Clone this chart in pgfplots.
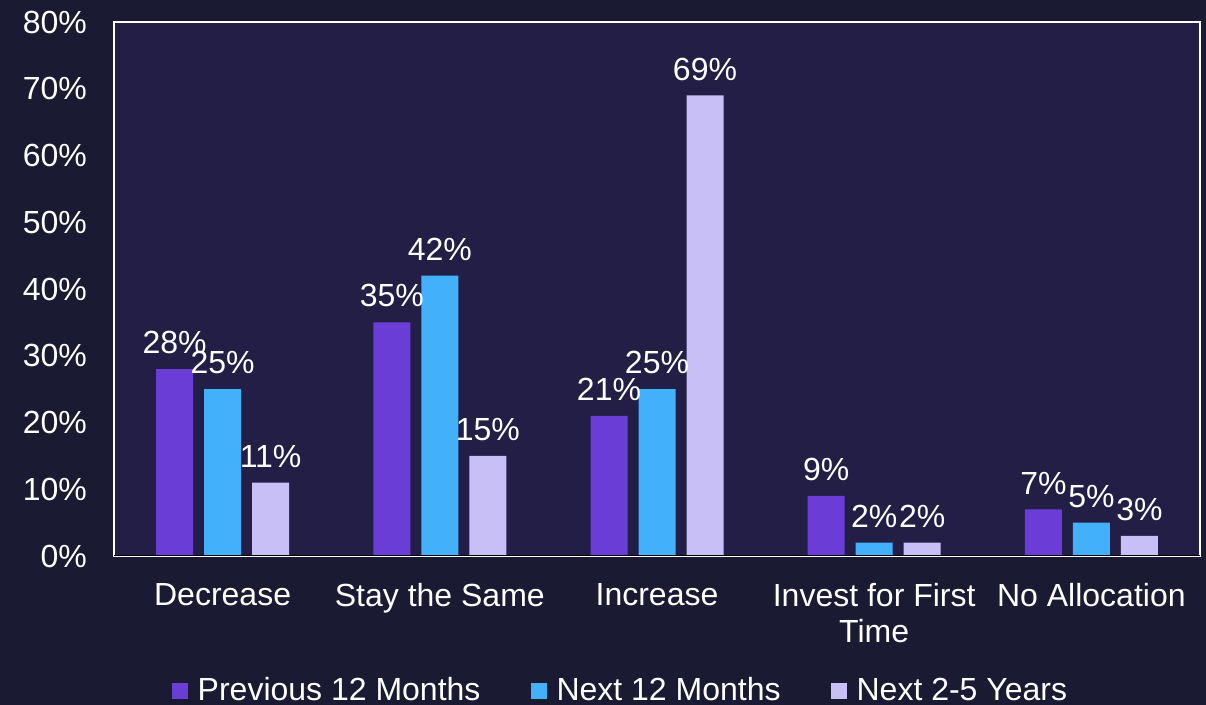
\documentclass[border=0pt]{standalone}
\usepackage{pgfplots}
\pgfplotsset{compat=1.18}
\usepackage{fontspec}
\setmainfont{Liberation Sans}
\usetikzlibrary{backgrounds}

\definecolor{outerbg}{HTML}{1B1A33}
\definecolor{plotbg}{HTML}{221E45}
\definecolor{cprev}{HTML}{6A3DD6}
\definecolor{cnext}{HTML}{42B0FB}
\definecolor{clong}{HTML}{C9BFF7}
\definecolor{baseline}{HTML}{D9D9D9}

\begin{document}
\begin{tikzpicture}
  \begin{axis}[
    at={(0,0)}, anchor=south west,
    scale only axis,
    width=543pt, height=267pt,
    ybar=5.5pt, bar width=18.5pt,
    xmin=-0.5, xmax=4.5,
    ymin=0, ymax=80,
    xtick={0,1,2,3,4},
    xticklabels={Decrease, Stay the Same, Increase, Invest for First\\Time, No Allocation},
    ytick={0,10,20,30,40,50,60,70,80},
    yticklabels={0\%,10\%,20\%,30\%,40\%,50\%,60\%,70\%,80\%},
    major tick length=0pt,
    font=\fontsize{16}{18}\selectfont,
    tick label style={white},
    xticklabel style={align=center, yshift=-10pt},
    yticklabel style={xshift=-10pt},
    axis background/.style={fill=plotbg},
    axis line style={white, line width=1pt},
    nodes near coords={\pgfmathprintnumber[assume math mode=true]{\pgfplotspointmeta}\%},
    every node near coord/.append style={white, font=\fontsize{16}{18}\selectfont, yshift=4pt},
    legend columns=3,
    legend style={at={(0.47,-0.252)}, anchor=center, draw=none, fill=none,
      text=white, font=\fontsize{16}{18}\selectfont,
      /tikz/every even column/.append style={column sep=20pt},
      nodes={inner xsep=5pt}},
    legend image code/.code={\fill[#1] (0pt,-4pt) rectangle (8pt,4pt);},
  ]
    \addplot[fill=cprev, draw=none] coordinates {(0,28) (1,35) (2,21) (3,9) (4,7)};
    \addlegendentry{Previous 12 Months}
    \addplot[fill=cnext, draw=none] coordinates {(0,25) (1,42) (2,25) (3,2) (4,5)};
    \addlegendentry{Next 12 Months}
    \addplot[fill=clong, draw=none] coordinates {(0,11) (1,15) (2,69) (3,2) (4,3)};
    \addlegendentry{Next 2-5 Years}
    \draw[baseline, line width=1.2pt] (rel axis cs:0,0) -- (rel axis cs:1,0);
  \end{axis}
  \begin{scope}[on background layer]
    \fill[outerbg] (-57pt,-74.5pt) rectangle (546pt,278pt);
  \end{scope}
  \pgfresetboundingbox
  \useasboundingbox (-57pt,-74.5pt) rectangle (546pt,278pt);
\end{tikzpicture}
\end{document}
